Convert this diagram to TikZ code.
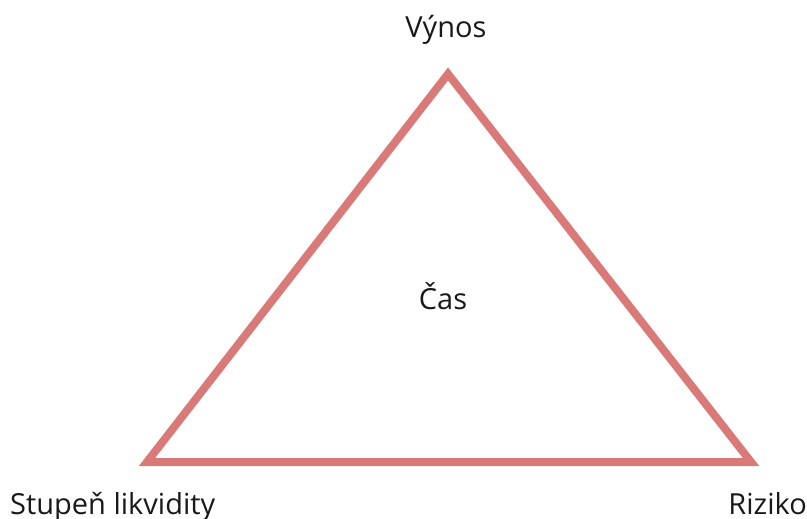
\documentclass[tikz,border=0pt]{standalone}
\usepackage{fontspec}
\setmainfont{Open Sans}
\definecolor{tri}{RGB}{217,122,120}
\begin{document}
\begin{tikzpicture}[x=1pt,y=-1pt,
  lbl/.style={anchor=base,inner sep=0pt,font=\fontsize{29}{34}\selectfont,text=black!90},
  edge/.style={draw=tri,line width=8pt,line join=miter}]
\useasboundingbox (0,0) rectangle (807,519);
\coordinate (top) at (448,74);
\coordinate (bl) at (147,462);
\coordinate (br) at (751,462);
\draw[edge] (top) -- (br) -- (bl) -- cycle;
\node[lbl] (vynos) at (446,38) {Výnos};
\node[lbl] (cas) at (443,309) {Čas};
\node[lbl,anchor=base west] (stup) at (10,514) {Stupeň likvidity};
\node[lbl,anchor=base east] (riz) at (807,514) {Riziko};
\end{tikzpicture}
\end{document}
